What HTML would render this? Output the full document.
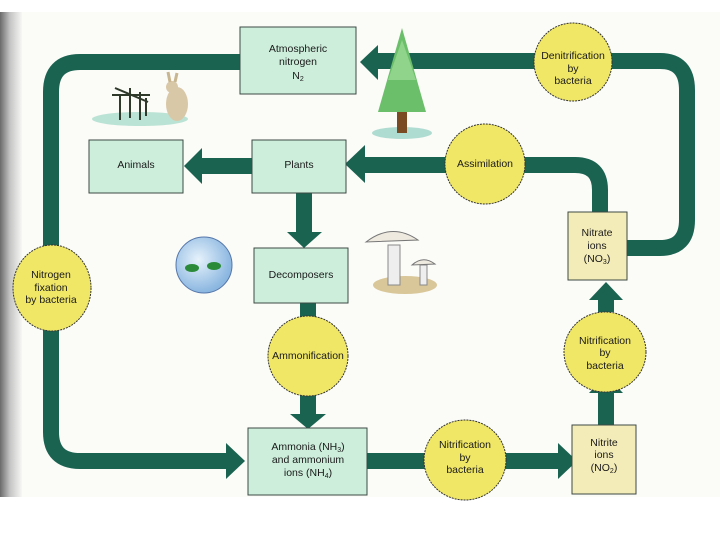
<!DOCTYPE html>
<html><head><style>
body{margin:0;width:720px;height:540px;background:#fff;overflow:hidden}
svg{display:block}
text{font-family:"Liberation Sans",sans-serif;font-size:10.5px;fill:#1a1a1a;text-anchor:middle}
</style></head><body>
<svg width="720" height="540" viewBox="0 0 720 540">
<defs>
<linearGradient id="lg" x1="0" x2="1" y1="0" y2="0">
<stop offset="0" stop-color="#6a6a6a"/><stop offset="0.45" stop-color="#c4c4c4"/><stop offset="1" stop-color="#f7f7f5"/>
</linearGradient>
<radialGradient id="bg" cx="0.4" cy="0.4" r="0.6"><stop offset="0" stop-color="#e6f2fb"/><stop offset="1" stop-color="#8ab6e0"/></radialGradient>
</defs>
<rect x="0" y="12" width="720" height="485" fill="#fbfbf8"/>
<rect x="0" y="12" width="22" height="485" fill="url(#lg)"/>
<g fill="none" stroke="#1b6351" stroke-width="16">
<path d="M240 62 H80 Q51 62 51 92 V432 Q51 461 80 461 H228"/>
<path d="M376 61 H660 Q687 61 687 90 V220 Q687 248 660 248 H627"/>
<path d="M364 165 H575 Q600 165 600 190 V212"/>
<path d="M252 166 H200"/>
<path d="M304 193 V234"/>
<path d="M308 302 V320"/>
<path d="M308 395 V416"/>
<path d="M366 461 H560"/>
<path d="M606 426 V392"/>
<path d="M606 312 V298"/>
</g>
<g fill="#1b6351">
<polygon points="360,62 378,45 378,80"/>
<polygon points="345,164 365,145 365,183"/>
<polygon points="184,166 202,148 202,184"/>
<polygon points="287,232 322,232 304,248"/>
<polygon points="290,414 326,414 308,429"/>
<polygon points="245,461 226,443 226,479"/>
<polygon points="577,461 558,443 558,479"/>
<polygon points="606,375 589,393 623,393"/>
<polygon points="606,282 589,300 623,300"/>
</g>
<g fill="#cdeedb" stroke="#3d4a44" stroke-width="1">
<rect x="240" y="27" width="116" height="67"/>
<rect x="89" y="140" width="94" height="53"/>
<rect x="252" y="140" width="94" height="53"/>
<rect x="254" y="248" width="94" height="55"/>
<rect x="248" y="428" width="119" height="67"/>
</g>
<g fill="#f4ecb8" stroke="#3d4a44" stroke-width="1">
<rect x="568" y="212" width="59" height="68"/>
<rect x="572" y="425" width="64" height="69"/>
</g>
<g fill="#f0e766" stroke="#333" stroke-width="1" stroke-dasharray="2,1">
<circle cx="573" cy="62" r="39"/>
<circle cx="485" cy="164" r="40"/>
<ellipse cx="52" cy="288" rx="39" ry="43"/>
<ellipse cx="308" cy="356" rx="40" ry="40"/>
<ellipse cx="465" cy="460" rx="41" ry="40"/>
<ellipse cx="605" cy="352" rx="41" ry="40"/>
</g>
<text x="298" y="52">Atmospheric</text>
<text x="298" y="65">nitrogen</text>
<text x="298" y="79">N<tspan font-size="7" dy="2">2</tspan></text>
<text x="573" y="59">Denitrification</text>
<text x="573" y="72">by</text>
<text x="573" y="84">bacteria</text>
<text x="136" y="168">Animals</text>
<text x="299" y="168">Plants</text>
<text x="485" y="167">Assimilation</text>
<text x="597" y="236">Nitrate</text>
<text x="597" y="249">ions</text>
<text x="597" y="262">(NO<tspan font-size="7" dy="2">3</tspan><tspan dy="-2">)</tspan></text>
<text x="51" y="278">Nitrogen</text>
<text x="51" y="291">fixation</text>
<text x="51" y="303">by bacteria</text>
<text x="301" y="278">Decomposers</text>
<text x="308" y="359">Ammonification</text>
<text x="605" y="344">Nitrification</text>
<text x="605" y="356">by</text>
<text x="605" y="369">bacteria</text>
<text x="308" y="450">Ammonia (NH<tspan font-size="7" dy="2">3</tspan><tspan dy="-2">)</tspan></text>
<text x="308" y="463">and ammonium</text>
<text x="308" y="476">ions (NH<tspan font-size="7" dy="2">4</tspan><tspan dy="-2">)</tspan></text>
<text x="465" y="448">Nitrification</text>
<text x="465" y="461">by</text>
<text x="465" y="473">bacteria</text>
<text x="604" y="446">Nitrite</text>
<text x="604" y="458">ions</text>
<text x="604" y="471">(NO<tspan font-size="7" dy="2">2</tspan><tspan dy="-2">)</tspan></text>
<ellipse cx="402" cy="133" rx="30" ry="6" fill="#8fcfc0" opacity="0.7"/>
<rect x="397" y="95" width="10" height="38" fill="#7a4a22"/>
<polygon points="402,28 378,112 426,112" fill="#6cbf6a"/>
<polygon points="402,40 388,80 416,80" fill="#8fd48a"/>
<ellipse cx="140" cy="119" rx="48" ry="7" fill="#9fd8c6" opacity="0.7"/>
<g stroke="#2f3a2a" stroke-width="2" fill="none">
<path d="M120 120 V95 M130 118 V88 M140 120 V92 M146 116 V98"/>
<path d="M112 95 L150 95 M115 88 L148 102"/>
</g>
<ellipse cx="177" cy="104" rx="11" ry="17" fill="#d9c8a8"/>
<circle cx="172" cy="87" r="6" fill="#d9c8a8"/>
<path d="M170 82 L168 72 M175 82 L177 73" stroke="#c8b690" stroke-width="3"/>
<circle cx="204" cy="265" r="28" fill="url(#bg)" stroke="#5577aa"/>
<ellipse cx="192" cy="268" rx="7" ry="4" fill="#2a8a3a"/>
<ellipse cx="214" cy="266" rx="7" ry="4" fill="#2a8a3a"/>
<ellipse cx="405" cy="285" rx="32" ry="9" fill="#d9c79a"/>
<rect x="388" y="245" width="12" height="40" fill="#eeeeee" stroke="#888"/>
<path d="M366 242 Q392 222 418 240 Z" fill="#eeeae0" stroke="#777"/>
<rect x="420" y="265" width="7" height="20" fill="#eee" stroke="#888"/>
<path d="M412 265 Q423 255 435 264 Z" fill="#eeeae0" stroke="#777"/>
</svg>
</body></html>
